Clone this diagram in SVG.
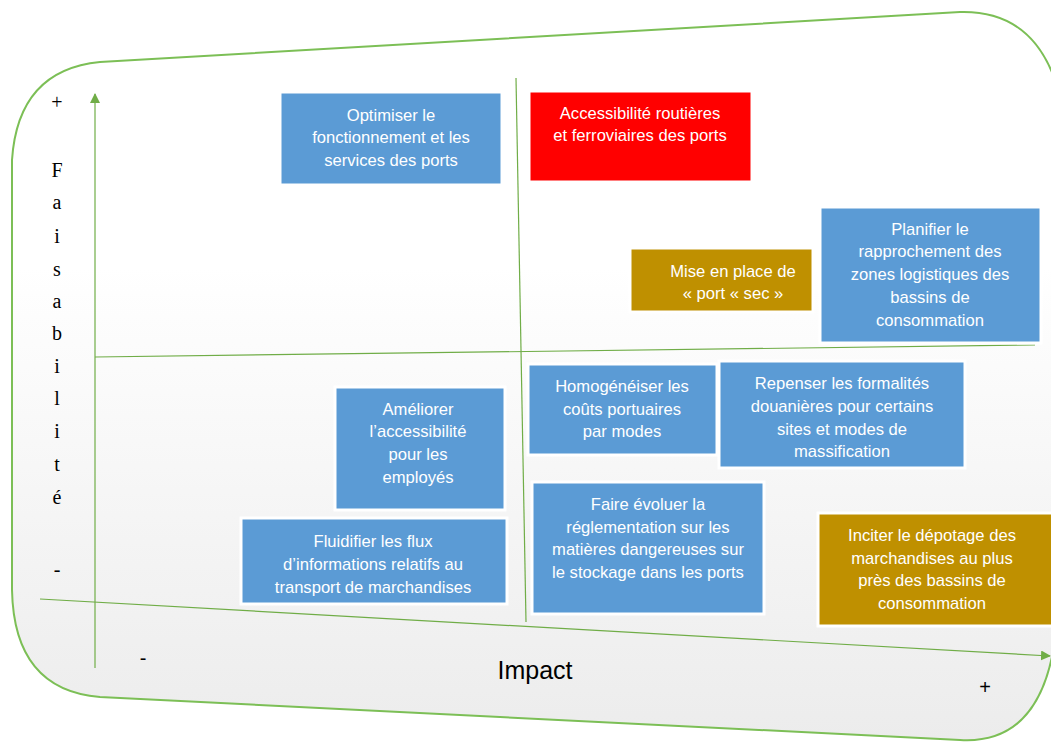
<svg xmlns="http://www.w3.org/2000/svg" width="1051" height="742" viewBox="0 0 1051 742">
<defs>
<linearGradient id="bg" x1="0" y1="0" x2="0" y2="1">
<stop offset="0" stop-color="#ffffff"/>
<stop offset="0.35" stop-color="#ffffff"/>
<stop offset="1" stop-color="#ececec"/>
</linearGradient>
<marker id="ah" markerWidth="10" markerHeight="10" refX="9" refY="5" orient="auto" markerUnits="userSpaceOnUse">
<path d="M0,0 L10,5 L0,10 Z" fill="#70ad47"/>
</marker>
<style>
.box{stroke:#ffffff;stroke-width:3}
.blue{fill:#5b9bd5}
.red{fill:#ff0000}
.gold{fill:#bf9000}
.t{font-family:"Liberation Sans",Arial,sans-serif;font-size:16.6px;fill:#ffffff;text-anchor:middle}
.ax{font-family:"Liberation Serif","Times New Roman",serif;font-size:20px;fill:#000;text-anchor:middle}
.ln{stroke:#70ad47;stroke-width:1.2;fill:none}
</style>
</defs>
<rect width="1051" height="742" fill="#ffffff"/>
<path d="M100,62 L960,12 Q1030,10 1055,80 L1055,640 Q1040,745 960,740 L100,697 Q14,690 12,590 L12,160 Q18,70 100,62 Z" fill="url(#bg)" stroke="#7cbf56" stroke-width="2"/>
<g id="connectors">
<line class="ln" x1="95" y1="668" x2="95" y2="94" marker-end="url(#ah)"/>
<line class="ln" x1="40" y1="599" x2="1050" y2="656" marker-end="url(#ah)"/>
<line class="ln" x1="516" y1="78" x2="526" y2="622"/>
<line class="ln" x1="95" y1="357" x2="1035" y2="345"/>
</g>
<g id="axis-labels">
<text class="ax" x="57" y="109">+</text>
<text class="ax" x="57" y="177">F</text>
<text class="ax" x="57" y="209">a</text>
<text class="ax" x="57" y="243">i</text>
<text class="ax" x="57" y="276">s</text>
<text class="ax" x="57" y="308">a</text>
<text class="ax" x="57" y="340">b</text>
<text class="ax" x="57" y="373">i</text>
<text class="ax" x="57" y="405">l</text>
<text class="ax" x="57" y="438">i</text>
<text class="ax" x="57" y="471">t</text>
<text class="ax" x="57" y="504">é</text>
<text class="ax" x="57" y="576">-</text>
<text class="ax" x="143" y="665" style="font-family:'Liberation Sans',Arial,sans-serif">-</text>
<text x="535" y="679" style="font-family:'Liberation Sans',Arial,sans-serif;font-size:25px;text-anchor:middle;fill:#000">Impact</text>
<text x="985" y="694" style="font-family:'Liberation Sans',Arial,sans-serif;font-size:20px;text-anchor:middle;fill:#000">+</text>
</g>
<g id="n1"><rect class="box blue" x="280" y="92" width="222" height="93"/>
<text class="t" x="391"><tspan x="391" y="121">Optimiser le</tspan><tspan x="391" y="143">fonctionnement et les</tspan><tspan x="391" y="166">services des ports</tspan></text></g>
<g id="n2"><rect class="box red" x="529" y="91" width="223" height="91"/>
<text class="t"><tspan x="640" y="119">Accessibilité routières</tspan><tspan x="640" y="141">et ferroviaires des ports</tspan></text></g>
<g id="n3"><rect class="box gold" x="630" y="248" width="183" height="64"/>
<text class="t"><tspan x="733" y="277">Mise en place de</tspan><tspan x="733" y="299">« port « sec »</tspan></text></g>
<g id="n4"><rect class="box blue" x="820" y="207" width="221" height="136"/>
<text class="t"><tspan x="930" y="235">Planifier le</tspan><tspan x="930" y="257">rapprochement des</tspan><tspan x="930" y="280">zones logistiques des</tspan><tspan x="930" y="303">bassins de</tspan><tspan x="930" y="326">consommation</tspan></text></g>
<g id="n5"><rect class="box blue" x="335" y="387" width="170" height="123"/>
<text class="t"><tspan x="418" y="415">Améliorer</tspan><tspan x="418" y="437">l’accessibilité</tspan><tspan x="418" y="460">pour les</tspan><tspan x="418" y="483">employés</tspan></text></g>
<g id="n6"><rect class="box blue" x="241" y="518" width="266" height="86"/>
<text class="t"><tspan x="373" y="547">Fluidifier les flux</tspan><tspan x="373" y="570">d’informations relatifs au</tspan><tspan x="373" y="593">transport de marchandises</tspan></text></g>
<g id="n7"><rect class="box blue" x="528" y="364" width="189" height="91"/>
<text class="t"><tspan x="622" y="392">Homogénéiser les</tspan><tspan x="622" y="415">coûts portuaires</tspan><tspan x="622" y="437">par modes</tspan></text></g>
<g id="n8"><rect class="box blue" x="719" y="361" width="246" height="107"/>
<text class="t"><tspan x="842" y="389">Repenser les formalités</tspan><tspan x="842" y="412">douanières pour certains</tspan><tspan x="842" y="435">sites et modes de</tspan><tspan x="842" y="457">massification</tspan></text></g>
<g id="n9"><rect class="box blue" x="532" y="482" width="232" height="132"/>
<text class="t"><tspan x="648" y="510">Faire évoluer la</tspan><tspan x="648" y="533">réglementation sur les</tspan><tspan x="648" y="555">matières dangereuses sur</tspan><tspan x="648" y="578">le stockage dans les ports</tspan></text></g>
<g id="n10"><rect class="box gold" x="818" y="513" width="236" height="113"/>
<text class="t"><tspan x="932" y="541">Inciter le dépotage des</tspan><tspan x="932" y="564">marchandises au plus</tspan><tspan x="932" y="586">près des bassins de</tspan><tspan x="932" y="609">consommation</tspan></text></g>
</svg>
